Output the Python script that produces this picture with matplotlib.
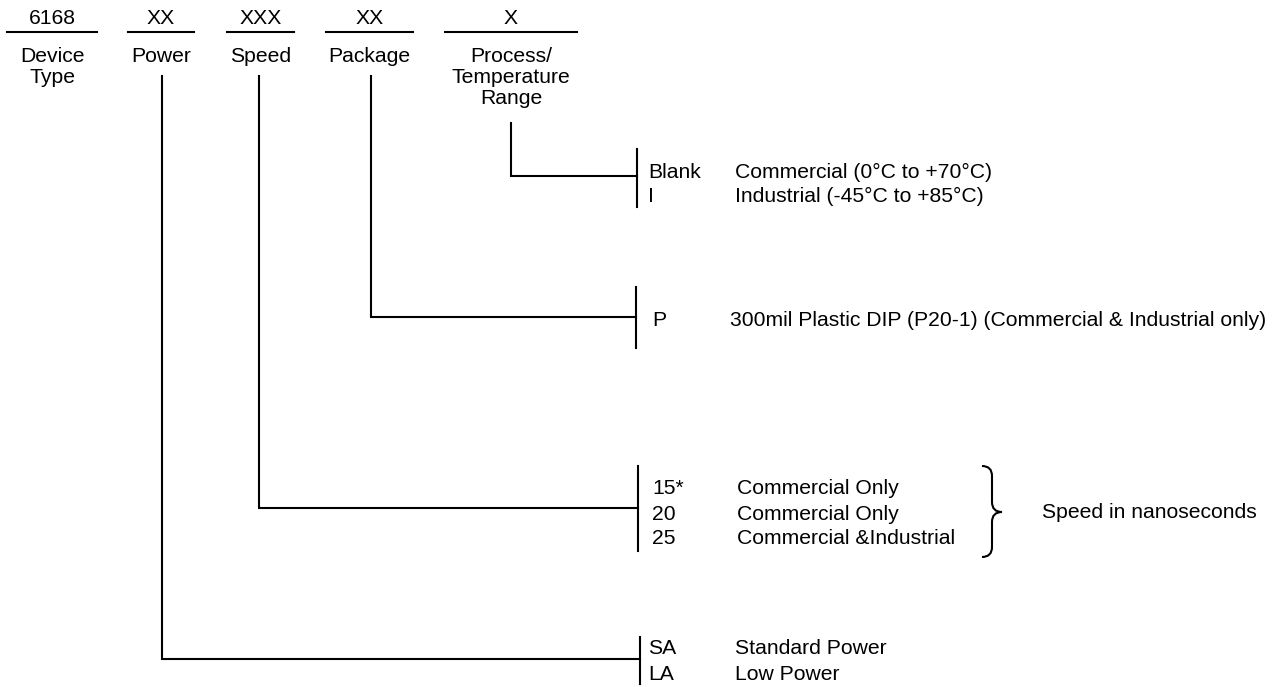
import matplotlib
matplotlib.use("Agg")
import matplotlib.pyplot as plt
from matplotlib.path import Path
from matplotlib.patches import PathPatch

plt.rcParams['font.family'] = ['Liberation Sans', 'DejaVu Sans']

# part number fields
codes = ["6168", "XX", "XXX", "XX", "X"]
fields = ["Device\nType", "Power", "Speed", "Package", "Process/\nTemperature\nRange"]

# options for each field
temp_opts = ["Blank", "I"]
temp_desc = ["Commercial (0°C to +70°C)", "Industrial (-45°C to +85°C)"]
pkg_opts = ["P"]
pkg_desc = ["300mil Plastic DIP (P20-1) (Commercial & Industrial only)"]
speed_opts = ["15*", "20", "25"]
speed_desc = ["Commercial Only", "Commercial Only", "Commercial &Industrial"]
speed_note = "Speed in nanoseconds"
power_opts = ["SA", "LA"]
power_desc = ["Standard Power", "Low Power"]

# layout (pixels)
seg_x = [(7, 97), (128, 194), (227, 294), (326, 413), (445, 577)]
fs = 15.2
lw = 1.5

fig = plt.figure(figsize=(12.81, 6.87), dpi=100)
ax = fig.add_axes([0, 0, 1, 1])
ax.set_xlim(0, 1281)
ax.set_ylim(687, 0)
ax.axis("off")

for (x0, x1), c, f in zip(seg_x, codes, fields):
    xc = (x0 + x1) / 2
    ax.plot([x0, x1], [32, 32], color="black", lw=lw)
    ax.text(xc, 18, c, ha="center", va="center", fontsize=fs)
    for i, line in enumerate(f.split("\n")):
        ax.text(xc, 57 + i * 20.5, line, ha="center", va="center", fontsize=fs)


def branch(xv, ytop, yh, xbar, ybar0, ybar1):
    ax.plot([xv, xv, xbar], [ytop, yh, yh], color="black", lw=lw,
            solid_joinstyle="miter")
    ax.plot([xbar, xbar], [ybar0, ybar1], color="black", lw=lw)


def options(opts, descs, ys, xo, xd):
    for o, d, y in zip(opts, descs, ys):
        ax.text(xo, y, o, ha="left", va="center", fontsize=fs)
        ax.text(xd, y, d, ha="left", va="center", fontsize=fs)


# process / temperature
branch(511, 123, 176, 637, 149, 207)
options(temp_opts, temp_desc, [172, 196], 648, 735)

# package
branch(371, 76, 317, 636, 287, 348)
options(pkg_opts, pkg_desc, [320], 652, 730)

# speed
branch(259, 76, 508, 638, 466, 551)
options(speed_opts, speed_desc, [489, 514, 539], 652, 737)

# brace
verts = [(982, 466), (992, 466), (992, 476), (992, 476),
         (992, 502), (992, 502), (992, 512), (1002, 512),
         (992, 512), (992, 522), (992, 522),
         (992, 547), (992, 547), (992, 557), (982, 557)]
codes_p = [Path.MOVETO, Path.CURVE3, Path.CURVE3, Path.LINETO,
           Path.LINETO, Path.LINETO, Path.CURVE3, Path.CURVE3,
           Path.CURVE3, Path.CURVE3, Path.LINETO,
           Path.LINETO, Path.LINETO, Path.CURVE3, Path.CURVE3]
ax.add_patch(PathPatch(Path(verts, codes_p), fill=False, lw=lw, color="black"))
ax.text(1042, 513, speed_note, ha="left", va="center", fontsize=fs)

# power
branch(162, 76, 659, 640, 637, 684)
options(power_opts, power_desc, [649, 674], 648, 735)

fig.savefig("out.png", dpi=100)
